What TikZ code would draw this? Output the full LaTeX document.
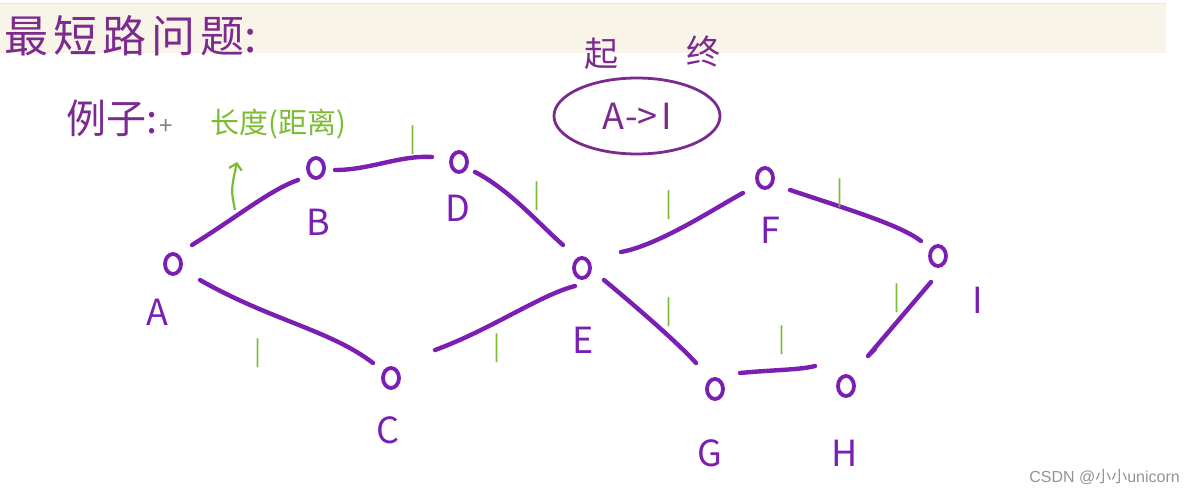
\documentclass[tikz,border=0pt]{standalone}
\usepackage{fontspec}
\setmainfont{Noto Sans CJK SC}
\newfontfamily\wmfont{Liberation Sans}
\usetikzlibrary{arrows.meta,shapes.geometric}
\definecolor{gpurple}{HTML}{7A1FB2}
\definecolor{tpurple}{HTML}{7D2A8E}
\definecolor{lgreen}{HTML}{7CBB34}
\definecolor{band}{HTML}{F8F5E8}
\tikzset{
  vtx/.style={draw=gpurple,line width=3.8pt,ellipse,minimum width=16pt,minimum height=20pt,inner sep=0pt},
  vlab/.style={text=gpurple,font=\fontsize{36}{36}\selectfont,inner sep=0pt},
  edge/.style={draw=gpurple,line width=4.4pt,line cap=round,line join=round},
  wt/.style={text=lgreen,font=\fontsize{26}{26}\selectfont,inner sep=0pt},
  title/.style={text=tpurple,font=\fontsize{44}{44}\selectfont,inner sep=0pt}
}
\begin{document}
\begin{tikzpicture}[x=1pt,y=-1pt]
\useasboundingbox (0,0) rectangle (1193,495);
\fill[band] (0,3) rectangle (1166,53);
\draw[black!10,line width=0.5pt] (0,3) -- (1166,3);
% title
\node[title,anchor=west] (title) at (4,36) {最\kern5pt 短\kern5pt 路\kern5pt 问\kern5pt 题:};
\node[title,font=\fontsize{40}{40}\selectfont,anchor=west] (ex) at (66,118) {例子:};
\node[text=gray,font=\fontsize{24}{24}\selectfont,inner sep=0pt] (cur) at (166,127) {+};
\node[text=lgreen,font=\fontsize{29}{29}\selectfont,inner sep=0pt,anchor=west] (len) at (210,124) {长度(距离)};
\coordinate (arA) at (235,210);
\coordinate (arB) at (237,162);
\draw[lgreen,line width=2.2pt,-{Straight Barb[length=6pt,width=13pt]}] (arA) .. controls (231,190) .. (arB);
% start/end
\node[title,font=\fontsize{34}{34}\selectfont] (qi) at (601,54) {起};
\node[title,font=\fontsize{34}{34}\selectfont] (zhong) at (703,52) {终};
\node[draw=tpurple,line width=2.8pt,ellipse,minimum width=166pt,minimum height=76pt,text=tpurple,font=\fontsize{36}{36}\selectfont] (ai) at (637,116) {A\kern2pt -\kern-1pt>\kern4pt I};
% vertices
\node[vtx] (A) at (173,264) {};
\node[vtx] (B) at (316,168) {};
\node[vtx] (D) at (459,162) {};
\node[vtx] (C) at (391,378) {};
\node[vtx] (E) at (582,268) {};
\node[vtx] (F) at (765,178) {};
\node[vtx] (I) at (938,256) {};
\node[vtx] (G) at (715,389) {};
\node[vtx] (H) at (846,386) {};
% labels
\node[vlab] (lA) at (157,312) {A};
\node[vlab] (lB) at (318,222) {B};
\node[vlab] (lD) at (458,208) {D};
\node[vlab] (lC) at (388,430) {C};
\node[vlab] (lE) at (583,340) {E};
\node[vlab] (lF) at (770,230) {F};
\node[vlab] (lI) at (978,300) {I};
\node[vlab] (lG) at (710,453) {G};
\node[vlab] (lH) at (845,453) {H};
% edges (with gaps)
\draw[edge] ([shift={(19,-19)}]A.center) .. controls (240,215) and (270,190) .. ([shift={(-18,12)}]B.center);
\draw[edge] ([shift={(19,2)}]B.center) .. controls (370,170) and (400,155) .. ([shift={(-27,-5)}]D.center);
\draw[edge] ([shift={(16,10)}]D.center) .. controls (510,190) and (540,225) .. ([shift={(-19,-23)}]E.center);
\draw[edge] ([shift={(27,16)}]A.center) .. controls (270,320) and (330,330) .. ([shift={(-18,-15)}]C.center);
\draw[edge] ([shift={(44,-28)}]C.center) .. controls (490,330) and (540,295) .. ([shift={(-7,18)}]E.center);
\draw[edge] ([shift={(39,-16)}]E.center) .. controls (660,245) and (720,205) .. ([shift={(-22,15)}]F.center);
\draw[edge] ([shift={(25,12)}]F.center) .. controls (850,210) and (900,225) .. ([shift={(-17,-15)}]I.center);
\draw[edge] ([shift={(22,12)}]E.center) .. controls (640,310) and (680,345) .. ([shift={(-19,-26)}]G.center);
\draw[edge] ([shift={(25,-16)}]G.center) .. controls (770,370) and (800,370) .. ([shift={(-31,-20)}]H.center);
\coordinate (hook) at (875,349);
\draw[edge] ([shift={(-7,26)}]I.center) -- ([shift={(22,-30)}]H.center) -- (hook);
% weights
\node[wt] (w1) at (413,140) {|};
\node[wt] (w2) at (537,196) {|};
\node[wt] (w3) at (258,353) {|};
\node[wt] (w4) at (497,348) {|};
\node[wt] (w5) at (669,205) {|};
\node[wt] (w6) at (840,193) {|};
\node[wt] (w7) at (669,312) {|};
\node[wt] (w8) at (782,340) {|};
\node[wt] (w9) at (897,298) {|};
% watermark
\node[text=gray!85,font=\fontsize{16}{16}\selectfont,inner sep=0pt,anchor=east] (wm) at (1180,477) {\wmfont CSDN @\normalfont 小小\wmfont unicorn};
\end{tikzpicture}
\end{document}
